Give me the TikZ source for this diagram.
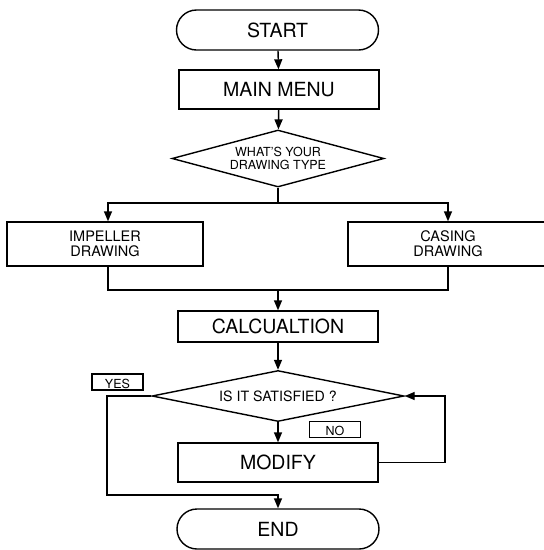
\documentclass[tikz,border=0pt]{standalone}
\usepackage{fontspec}
\setmainfont{TeX Gyre Heros}
\usetikzlibrary{arrows.meta,shapes.geometric}

\begin{document}
\begin{tikzpicture}[x=1pt,y=-1pt,line width=1.4pt,
  bigfont/.style={font=\fontsize{19.5}{21}\selectfont},
  midfont/.style={font=\fontsize{14.5}{15}\selectfont},
  term/.style={draw,rectangle,rounded corners=20pt,inner sep=0pt,
    minimum width=202pt,minimum height=40pt,bigfont},
  stepbox/.style={draw,rectangle,inner sep=0pt,align=center},
  decision/.style={draw,diamond,inner sep=0pt,align=center},
  tag/.style={draw,rectangle,line width=1.2pt,inner xsep=0pt,inner ysep=2pt,
    text height=12pt,text depth=0pt,minimum width=51pt,
    font=\fontsize{12.5}{13}\selectfont},
  flow/.style={-{Triangle[length=10pt,width=8pt]}}]

\useasboundingbox (0,0) rectangle (544,550);

% main column
\node[term] (start) at (277.5,30) {START};
\node[stepbox,bigfont,minimum width=200pt,minimum height=39pt] (menu) at (279,89.5) {MAIN MENU};
\node[decision,shape aspect=3.7,minimum width=212pt,minimum height=57pt,
  font=\fontsize{12.5}{13.5}\selectfont] (q1) at (278,158.5) {WHAT'S YOUR\\DRAWING TYPE};

% the two drawing branches
\node[stepbox,midfont,minimum width=196pt,minimum height=44pt] (imp) at (105,244) {IMPELLER\\DRAWING};
\node[stepbox,midfont,minimum width=200pt,minimum height=44pt] (cas) at (448,244) {CASING\\DRAWING};

\node[stepbox,bigfont,minimum width=200pt,minimum height=31pt] (calc) at (278,326.5) {CALCUALTION};
\node[decision,shape aspect=5,minimum width=252pt,minimum height=51pt,
  font=\fontsize{14.2}{15}\selectfont] (q2) at (278,396) {IS IT SATISFIED ?};
\node[stepbox,bigfont,minimum width=200pt,minimum height=39pt] (modify) at (278,462.5) {MODIFY};
\node[term] (end) at (278,529) {END};

% answer tags
\node[tag] (yes) at (117.5,382) {YES};
\node[tag] (no) at (335,429.5) {NO};

% routing points
\coordinate (split) at (278,203);
\coordinate (splitL) at (108,203);
\coordinate (splitR) at (448,203);
\coordinate (merge) at (278,290);
\coordinate (yesB) at (107,495);
\coordinate (loopB) at (445,462.5);

% connectors
\draw[flow] (start) -- (menu);
\draw[flow] (menu) -- (q1);
\draw (q1.south) -- (split);
\draw[flow] (split) -| (splitL |- imp.north);
\draw[flow] (split) -| (splitR |- cas.north);
\draw (splitL |- imp.south) |- (merge) -| (splitR |- cas.south);
\draw[flow] (merge) -- (calc.north);
\draw[flow] (calc) -- (q2.north);
\draw[flow] (q2.south) -- (modify.north);
\draw[flow] (q2.west) -| (yesB) -| (end.north);
\draw[flow] (modify.east) -- (loopB) |- (q2.east);
\end{tikzpicture}
\end{document}
